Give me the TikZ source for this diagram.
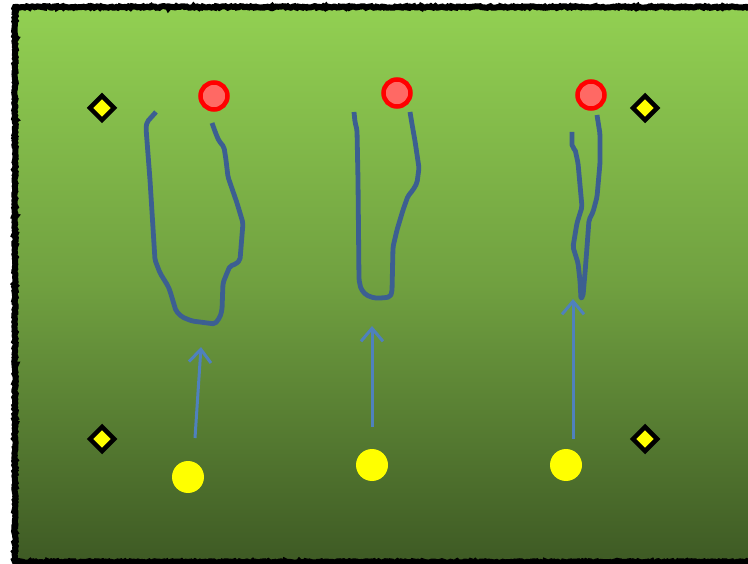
\documentclass[tikz,border=0pt]{standalone}
\usetikzlibrary{shapes.geometric,arrows.meta,decorations.pathmorphing}
\definecolor{fieldtop}{RGB}{146,208,82}
\definecolor{fieldmid}{RGB}{112,160,64}
\definecolor{fieldbot}{RGB}{62,90,36}
\definecolor{runline}{RGB}{60,95,145}
\definecolor{passline}{RGB}{79,129,189}
\definecolor{coneyellow}{RGB}{255,255,0}
\definecolor{defred}{RGB}{255,0,0}
\definecolor{defpink}{RGB}{255,105,100}
\tikzset{
  cone/.style={diamond, draw=black, fill=coneyellow, line width=4.5pt,
    minimum width=26pt, minimum height=26pt, inner sep=0pt},
  defender/.style={circle, draw=defred, fill=defpink, line width=4.5pt,
    minimum size=27pt, inner sep=0pt},
  player/.style={circle, fill=coneyellow, minimum size=32pt, inner sep=0pt},
  run/.style={draw=runline, line width=4.8pt, line join=round, line cap=butt, rounded corners=2pt},
  pass/.style={draw=passline, line width=3pt, -{Straight Barb[length=13pt,width=22pt,line width=3pt]}},
  frame/.style={draw=black, line width=6pt,
    decorate, decoration={random steps, segment length=1.5pt, amplitude=0.8pt}}
}
\begin{document}
\begin{tikzpicture}[x=1pt,y=-1pt]
\useasboundingbox (0,0) rectangle (748,564);
% field with gradient
\shade[top color=fieldtop, bottom color=fieldbot, middle color=fieldmid]
  (15,7) rectangle (770,562);
\draw[frame] (770,7) -- (15,7) -- (15,562) -- (770,562);

% cones
\node[cone] (c1) at (102,108) {};
\node[cone] (c2) at (645,108) {};
\node[cone] (c3) at (102,439) {};
\node[cone] (c4) at (645,439) {};

% defenders
\node[defender] (d1) at (214,96) {};
\node[defender] (d2) at (397,93) {};
\node[defender] (d3) at (591,95) {};

% attackers
\node[player] (p1) at (188,477) {};
\node[player] (p2) at (372,465) {};
\node[player] (p3) at (566,465) {};

% pass starts and targets
\coordinate (s1) at (195,438);
\coordinate (t1) at (201,347);
\coordinate (s2) at (372,427);
\coordinate (t2) at (372,326);
\coordinate (s3) at (573,439);
\coordinate (t3) at (573,299);
\draw[pass] (s1) -- (t1);
\draw[pass] (s2) -- (t2);
\draw[pass] (s3) -- (t3);

% running routes
\draw[run] (156,112) -- (147,122) -- (146,128) -- (150,180) -- (155,260) -- (160,273)
  -- (168,286) -- (170,291) -- (176,311) -- (182,317) -- (192,321) -- (215,324)
  -- (220,317) -- (222,310) -- (223,283) -- (227,273) -- (230,266) -- (236,264)
  -- (240,260) -- (243,223) -- (237,203) -- (228,177) -- (226,160) -- (224,147)
  -- (219,141) -- (216,134) -- (212,123);
\draw[run] (354,112) -- (355,122) -- (357,130) -- (358,180) -- (359,280) -- (361,289)
  -- (366,295) -- (374,298) -- (382,298) -- (390,297) -- (392,292) -- (393,247)
  -- (397,230) -- (403,210) -- (408,196) -- (413,190) -- (417,183) -- (419,168)
  -- (415,141) -- (412,124) -- (410,112);
\draw[run] (572,132) -- (572,147) -- (575,149) -- (578,163) -- (582,207) -- (577,223)
  -- (573,247) -- (578,263) -- (580,281) -- (581,299) -- (583,296) -- (585,273)
  -- (587,247) -- (589,220) -- (593,212) -- (597,197) -- (600,163) -- (600,134)
  -- (597,115);
\end{tikzpicture}
\end{document}
